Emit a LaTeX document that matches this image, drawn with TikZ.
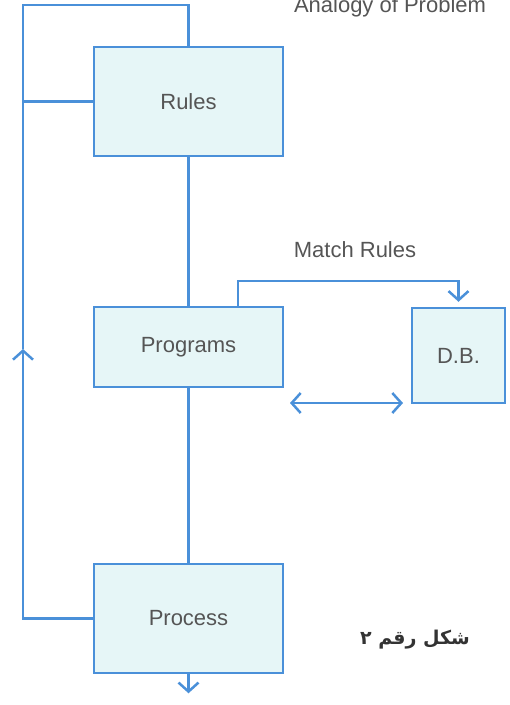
\documentclass[tikz,border=0pt]{standalone}
\usepackage{fontspec}
\setmainfont{Liberation Sans}
\newfontfamily\arabicfont[Script=Arabic]{DejaVu Sans}
\TeXXeTstate=1
\usetikzlibrary{arrows.meta}
\definecolor{lineblue}{HTML}{4A90D9}
\definecolor{boxfill}{HTML}{E6F6F7}
\definecolor{txtgray}{HTML}{555555}
\begin{document}
\begin{tikzpicture}[x=1pt,y=-1pt,
  box/.style={draw=lineblue, fill=boxfill, line width=2.5pt, minimum width=189pt,
    inner sep=0pt, text=txtgray, font=\fontsize{22}{26}\selectfont},
  conn/.style={draw=lineblue, line width=2.5pt},
  barb/.style={-{Straight Barb[length=9pt,width=20pt]}},
  lbl/.style={text=txtgray, font=\fontsize{22}{26}\selectfont}]
\useasboundingbox (0,0) rectangle (510,705);

\node[box, minimum height=109pt] (rules) at (188.5,101.5) {Rules};
\node[box, minimum height=80pt] (prog) at (188.5,347) {Programs};
\node[box, minimum width=93pt, minimum height=95pt] (db) at (458.5,355.5) {D.B.};
\node[box, minimum height=109pt] (proc) at (188.5,618.5) {Process};

\node[lbl] (mrlabel) at (355,250) {Match Rules};
\node[lbl, anchor=base] (analogy) at (390,12) {Analogy of Problem};
\node[text=black!80, font=\arabicfont\bfseries\fontsize{19}{22}\selectfont] (fig) at (415,640) {\beginR شكل رقم ٢\endR};

\coordinate (tl) at (23,5);
\coordinate (mid) at (23,349);
\coordinate (mrl) at (238,281);
\coordinate (dl) at (290,403);
\coordinate (dr) at (403,403);

\draw[conn] (rules.south) -- (prog.north);
\draw[conn] (prog.south) -- (proc.north);
\draw[conn, barb] (proc.west) -| (mid);
\draw[conn] (mid) -- (tl) -| (rules.north);
\draw[conn] (rules.west) -- (rules.west -| tl);
\draw[conn, barb, shorten >=5pt] (mrl |- prog.north) -- (mrl) -| (db.north);
\draw[conn, {Straight Barb[length=9pt,width=20pt]}-{Straight Barb[length=9pt,width=20pt]}] (dl) -- (dr);
\draw[conn, barb] (proc.south) -- ++(0,19);
\end{tikzpicture}
\end{document}
